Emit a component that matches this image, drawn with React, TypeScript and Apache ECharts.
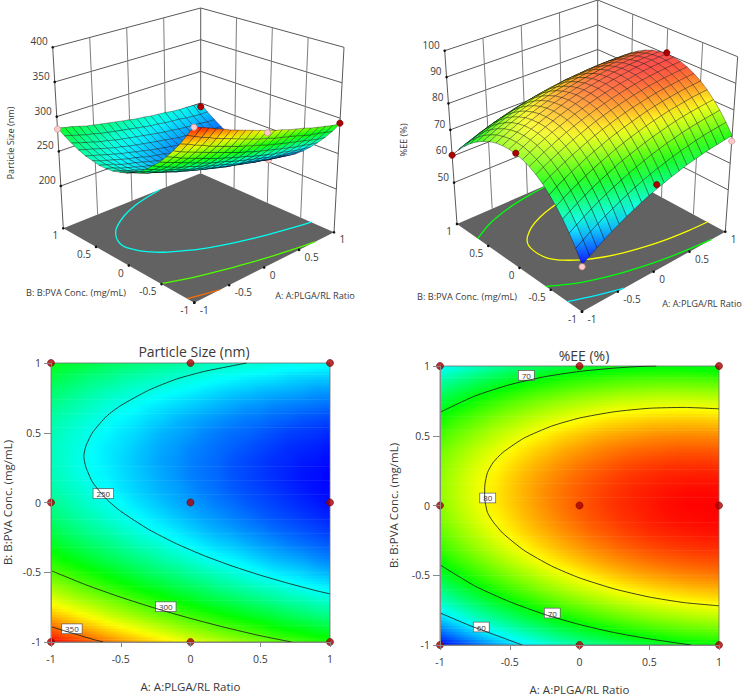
import React, { useEffect, useRef } from "react";
import * as echarts from "echarts";

const FONT = "'Open Sans', 'Noto Sans', sans-serif";
const TEXT = "#3a3a3a";

// Factor levels of the response-surface grid (A along a row, B from row to row)
const gridLevels = [-1, -0.9, -0.8, -0.7, -0.6, -0.5, -0.4, -0.3, -0.2, -0.1, 0, 0.1, 0.2, 0.3, 0.4, 0.5, 0.6, 0.7, 0.8, 0.9, 1];

// Particle Size (nm): rows B = -1 .. 1, columns A = -1 .. 1
const sizeRows = [
  [367,362,358,353,349,344,340,336,332,328,324,320,317,313,310,307,303,300,297,294,292],
  [352,347,342,338,333,329,325,321,317,313,309,306,302,299,296,293,289,286,284,281,278],
  [337,333,328,324,319,315,311,307,303,300,296,293,289,286,283,280,277,274,271,268,266],
  [324,319,315,311,307,303,299,295,291,287,284,280,277,274,271,268,265,262,260,257,255],
  [312,308,303,299,295,291,287,283,280,276,273,270,266,263,260,257,255,252,249,247,245],
  [301,297,293,289,285,281,277,273,270,267,263,260,257,254,251,248,245,243,241,238,236],
  [292,287,283,279,275,272,268,265,261,258,255,251,248,246,243,240,237,235,233,230,228],
  [283,279,275,271,268,264,260,257,254,250,247,244,241,239,236,233,231,228,226,224,222],
  [276,272,268,264,261,257,254,250,247,244,241,238,235,233,230,228,225,223,221,219,217],
  [270,266,262,259,255,252,248,245,242,239,236,233,231,228,226,223,221,219,217,215,213],
  [265,262,258,254,251,248,244,241,238,235,232,230,227,225,222,220,218,216,214,212,210],
  [262,258,255,251,248,244,241,238,235,233,230,227,225,222,220,218,216,214,212,210,209],
  [259,256,252,249,246,243,240,237,234,231,228,226,224,221,219,217,215,213,211,210,208],
  [258,255,251,248,245,242,239,236,233,231,228,226,224,221,219,217,215,214,212,211,209],
  [258,255,252,248,245,243,240,237,234,232,229,227,225,223,221,219,217,215,214,213,211],
  [260,256,253,250,247,244,242,239,236,234,232,229,227,225,224,222,220,218,217,216,214],
  [262,259,256,253,250,247,245,242,240,237,235,233,231,229,227,226,224,223,221,220,219],
  [266,263,260,257,254,251,249,246,244,242,240,238,236,234,232,231,229,228,227,226,225],
  [271,268,265,262,259,257,254,252,250,248,246,244,242,240,239,237,236,235,234,232,232],
  [277,274,271,268,266,263,261,259,257,255,253,251,249,248,246,245,244,242,241,240,240],
  [284,281,279,276,273,271,269,267,265,263,261,259,258,256,255,254,252,251,251,250,249],
];

// %EE (%): rows B = -1 .. 1, columns A = -1 .. 1
const eeRows = [
  [50.7,52.3,53.9,55.5,57,58.3,59.7,60.9,62.1,63.2,64.2,65.1,66,66.8,67.6,68.2,68.8,69.3,69.7,70.1,70.4],
  [55,56.6,58.2,59.7,61.2,62.5,63.8,65,66.2,67.3,68.3,69.2,70,70.8,71.5,72.1,72.7,73.2,73.6,73.9,74.2],
  [58.9,60.5,62.1,63.6,65,66.3,67.6,68.8,69.9,70.9,71.9,72.8,73.6,74.4,75,75.7,76.2,76.6,77,77.3,77.6],
  [62.4,64,65.5,67,68.4,69.7,70.9,72.1,73.2,74.2,75.1,76,76.8,77.5,78.2,78.8,79.3,79.7,80,80.3,80.5],
  [65.5,67.1,68.6,70,71.4,72.7,73.9,75,76.1,77.1,78,78.8,79.6,80.3,80.9,81.5,81.9,82.3,82.7,82.9,83.1],
  [68.2,69.8,71.3,72.7,74,75.3,76.4,77.5,78.6,79.5,80.4,81.2,82,82.7,83.3,83.8,84.2,84.6,84.9,85.1,85.3],
  [70.6,72.1,73.5,74.9,76.2,77.4,78.6,79.7,80.7,81.6,82.5,83.3,84,84.6,85.2,85.7,86.1,86.4,86.7,86.9,87],
  [72.5,74,75.4,76.7,78,79.2,80.3,81.4,82.4,83.3,84.1,84.9,85.5,86.2,86.7,87.2,87.6,87.9,88.1,88.3,88.4],
  [74,75.4,76.8,78.1,79.4,80.6,81.7,82.7,83.6,84.5,85.3,86.1,86.7,87.3,87.8,88.3,88.6,88.9,89.1,89.3,89.4],
  [75.1,76.5,77.9,79.2,80.4,81.5,82.6,83.6,84.5,85.4,86.2,86.9,87.5,88.1,88.5,89,89.3,89.6,89.7,89.9,89.9],
  [75.7,77.2,78.5,79.8,81,82.1,83.1,84.1,85,85.8,86.6,87.3,87.9,88.4,88.8,89.2,89.6,89.8,90,90,90.1],
  [76,77.4,78.7,80,81.1,82.2,83.2,84.2,85.1,85.9,86.6,87.2,87.8,88.3,88.8,89.1,89.4,89.6,89.8,89.8,89.8],
  [75.9,77.3,78.6,79.8,80.9,82,83,83.9,84.7,85.5,86.2,86.8,87.4,87.9,88.3,88.6,88.9,89,89.2,89.2,89.2],
  [75.4,76.7,78,79.2,80.3,81.3,82.3,83.2,84,84.7,85.4,86,86.5,87,87.4,87.7,87.9,88.1,88.1,88.2,88.1],
  [74.5,75.8,77,78.2,79.2,80.3,81.2,82.1,82.8,83.6,84.2,84.8,85.3,85.7,86.1,86.3,86.5,86.7,86.7,86.7,86.6],
  [73.1,74.4,75.6,76.7,77.8,78.8,79.7,80.5,81.3,82,82.6,83.2,83.6,84,84.3,84.6,84.8,84.9,84.9,84.9,84.8],
  [71.4,72.7,73.8,74.9,76,76.9,77.8,78.6,79.4,80,80.6,81.1,81.6,81.9,82.2,82.5,82.6,82.7,82.7,82.6,82.5],
  [69.3,70.5,71.6,72.7,73.7,74.7,75.5,76.3,77,77.6,78.2,78.7,79.1,79.5,79.7,79.9,80,80.1,80.1,80,79.8],
  [66.7,67.9,69,70.1,71.1,72,72.8,73.6,74.2,74.8,75.4,75.8,76.2,76.6,76.8,77,77.1,77.1,77,76.9,76.7],
  [63.8,65,66,67.1,68,68.9,69.7,70.4,71.1,71.7,72.2,72.6,73,73.3,73.5,73.6,73.7,73.7,73.6,73.5,73.2],
  [60.4,61.6,62.6,63.6,64.6,65.4,66.2,66.9,67.5,68.1,68.6,69,69.3,69.6,69.7,69.9,69.9,69.9,69.8,69.6,69.3],
];

// Contour lines: [level, [[A, B], ...]]
const sizeContours: [number, number[][]][] = [
  [250, [[0.403,1],[0.3,0.98],[0.1,0.94],[-0.1,0.885],[-0.3,0.805],[-0.5,0.695],[-0.6,0.62],[-0.7,0.505],[-0.75,0.405],[-0.765,0.33],[-0.75,0.254],[-0.7,0.142],[-0.6,0.022],[-0.5,-0.063],[-0.3,-0.193],[-0.1,-0.296],[0.1,-0.382],[0.3,-0.456],[0.5,-0.521],[0.7,-0.579],[0.9,-0.632],[1,-0.655]]],
  [300, [[-1,-0.488],[-0.75,-0.59],[-0.5,-0.679],[-0.25,-0.759],[0,-0.831],[0.25,-0.896],[0.5,-0.955],[0.725,-1]]],
  [350, [[-1,-0.89],[-0.9,-0.921],[-0.8,-0.951],[-0.7,-0.981],[-0.625,-1]]],
];
const eeContours: [number, number[][]][] = [
  [80, [[1,0.693],[0.75,0.703],[0.5,0.697],[0.25,0.672],[0,0.627],[-0.2,0.569],[-0.4,0.482],[-0.55,0.38],[-0.62,0.307],[-0.66,0.235],[-0.678,0.15],[-0.68,0.06],[-0.66,-0.049],[-0.62,-0.116],[-0.55,-0.198],[-0.4,-0.32],[-0.2,-0.434],[0,-0.519],[0.25,-0.598],[0.5,-0.656],[0.75,-0.696],[1,-0.719]]],
  [70, [[-1,0.668],[-0.75,0.785],[-0.5,0.866],[-0.25,0.923],[0,0.961],[0.25,0.985],[0.42,0.996],[0.55,1]]],
  [70, [[-1,-0.425],[-0.75,-0.577],[-0.5,-0.69],[-0.25,-0.781],[0,-0.853],[0.25,-0.911],[0.5,-0.956],[0.8,-1]]],
  [60, [[-1,-0.77],[-0.8,-0.855],[-0.6,-0.93],[-0.41,-1]]],
];
const sizeContourLabels = [[-0.625,0.064,"250"],[-0.177,-0.747,"300"],[-0.85,-0.905,"350"]];
const eeContourLabels = [[-0.381,0.933,"70"],[-0.658,0.054,"80"],[-0.195,-0.771,"70"],[-0.704,-0.871,"60"]];

// Design points
const designA = [-1,0,1,-1,0,1,-1,0,1];
const designB = [-1,-1,-1,0,0,0,1,1,1];
const sizeObserved = [366,321,293,270,245,203,282,257,244];
const sizeAbove = [0,0,1,0,0,0,0,0,1];
const sizeInFront = [1,1,1,0,0,0,1,0,1];
const eeObserved = [50,65.8,68.3,76,86,90.5,60.4,68,69];
const eeAbove = [0,1,0,1,0,1,1,0,0];
const eeInFront = [1,1,1,1,0,1,1,0,0];

const axisTicks = [-1,-0.5,0,0.5,1];
const sizeZTicks = [200,250,300,350,400];
const eeZTicks = [50,60,70,80,90,100];

const RED = "#ad0000", RED_EDGE = "#6e0000", PINK = "#ffc9c9", PINK_EDGE = "#c99a9a";

function rainbow(t: number, sheen = 0) {
  const x = Math.max(0, Math.min(1, t)) * 4;
  const knots = [[0,0,255],[0,255,255],[0,255,0],[255,255,0],[255,0,0]];
  const k = Math.min(3, Math.floor(x)), f = x - k;
  const c = [0,1,2].map((d) => {
    const v = knots[k][d] + (knots[k + 1][d] - knots[k][d]) * f;
    return Math.round(v + (255 - v) * sheen);
  });
  return `rgb(${c[0]},${c[1]},${c[2]})`;
}

function layer(items: any[], axis: number, draw: (it: any, api: any) => any, extra: any = {}) {
  return {
    type: "custom", coordinateSystem: "cartesian2d", xAxisIndex: axis, yAxisIndex: axis,
    silent: true, clip: false, data: items.map((_, k) => [k, 0]),
    renderItem: (p: any, api: any) => draw(items[p.dataIndex], api), ...extra,
  };
}

type Pt = number[];
interface Panel3D {
  floor: Pt[]; top: Pt[]; zMin: number; zMax: number; zTicks: number[];
  rows: number[][]; contours: [number, number[][]][];
  observed: number[]; above: number[]; inFront: number[]; sheen: number;
  zTitle: string; zTitlePos: Pt; aTitlePos: Pt; bTitlePos: Pt;
}

function series3D(c: Panel3D) {
  const flat = c.rows.flat();
  const vMin = Math.min(...flat), vMax = Math.max(...flat);
  const tone = (v: number, s = 0) => rainbow((v - vMin) / (vMax - vMin), s);
  // corners: near(-1,-1), right(1,-1), left(-1,1), back(1,1)
  const view = (A: number, B: number, Z: number): Pt => {
    const u = (A + 1) / 2, v = (B + 1) / 2, w = (Z - c.zMin) / (c.zMax - c.zMin);
    const wt = [(1 - u) * (1 - v), u * (1 - v), (1 - u) * v, u * v];
    return [0, 1].map((d) => {
      const lo = c.floor.reduce((s, p, i) => s + p[d] * wt[i], 0);
      const hi = c.top.reduce((s, p, i) => s + p[d] * wt[i], 0);
      return lo + (hi - lo) * w;
    });
  };
  const ZF = c.zMin, ZT = c.zMax;
  const segs: any[] = [];
  const DARK = "#5a5a5a", MID = "#7d7d7d";
  c.zTicks.forEach((z) => {
    segs.push([-1, 1, z, 1, 1, z, DARK], [1, 1, z, 1, -1, z, DARK]);
  });
  axisTicks.forEach((t) => {
    const edge = Math.abs(t) === 1;
    segs.push([t, 1, ZF, t, 1, ZT, edge ? DARK : MID]);
    if (t !== 1) segs.push([1, t, ZF, 1, t, ZT, edge ? DARK : MID]);
  });
  const line = (api: any, a: Pt, b: Pt, stroke: string, lineWidth = 1) => {
    const p = api.coord(a), q = api.coord(b);
    return { type: "line", shape: { x1: p[0], y1: p[1], x2: q[0], y2: q[1] }, style: { stroke, lineWidth } };
  };
  const quads: number[][] = [];
  for (let j = 19; j >= 0; j--) for (let i = 19; i >= 0; i--) quads.push([i, j]);
  const points = designA.map((a, k) => ({ a, b: designB[k], z: c.observed[k], up: c.above[k], front: c.inFront[k] }));
  const marker = (d: any, api: any) => {
    const p = api.coord(view(d.a, d.b, d.z));
    return { type: "circle", shape: { cx: p[0], cy: p[1], r: 3.1 }, style: { fill: d.up ? RED : PINK, stroke: d.up ? RED_EDGE : PINK_EDGE, lineWidth: 0.8 } };
  };
  const dots: Pt[] = [];
  axisTicks.forEach((t) => { dots.push([t, -1, ZF], [-1, t, ZF]); });
  c.zTicks.forEach((z) => dots.push([-1, 1, z]));
  const labels: any[] = [];
  axisTicks.forEach((t) => {
    labels.push({ at: [-1, t, ZF], dx: -5, dy: 7, align: "right", text: String(t) });
    labels.push({ at: [t, -1, ZF], dx: 5.5, dy: 7, align: "left", text: String(t) });
  });
  c.zTicks.forEach((z) => labels.push({ at: [-1, 1, z], dx: -5, dy: -6, align: "right", text: String(z) }));
  const free: any[] = [
    { pos: c.zTitlePos, text: c.zTitle, rot: Math.PI / 2, size: 9.2 },
    { pos: c.bTitlePos, text: "B: B:PVA Conc. (mg/mL)", rot: 0, size: 9.2 },
    { pos: c.aTitlePos, text: "A: A:PLGA/RL Ratio", rot: 0, size: 9.2 },
  ];
  const zSpan = c.zMax - c.zMin;
  return [
    layer(segs, 2, (s, api) => line(api, view(s[0], s[1], s[2]), view(s[3], s[4], s[5]), s[6])),
    layer([0], 2, (_, api) => ({
      type: "polygon",
      shape: { points: [view(-1,-1,ZF), view(1,-1,ZF), view(1,1,ZF), view(-1,1,ZF)].map((p) => api.coord(p)) },
      style: { fill: "#626262" },
    })),
    layer(c.contours, 2, (ct, api) => ({
      type: "polyline",
      shape: { points: ct[1].map((p: number[]) => api.coord(view(p[0], p[1], ZF))), smooth: 0.2 },
      style: { fill: "none", stroke: tone(ct[0]), lineWidth: 1.3 },
    })),
    layer(dots, 2, (d, api) => {
      const p = api.coord(view(d[0], d[1], d[2]));
      return { type: "circle", shape: { cx: p[0], cy: p[1], r: 1.3 }, style: { fill: "#111" } };
    }),
    layer(points.filter((d) => !d.front), 2, marker),
    layer(quads, 2, (q, api) => {
      const [i, j] = q;
      const r = c.rows;
      const corners = [[i, j], [i + 1, j], [i + 1, j + 1], [i, j + 1]].map(([m, n]) => ({
        v: r[n][m], p: api.coord(view(gridLevels[m], gridLevels[n], r[n][m])),
      }));
      const slopeA = ((r[j][i + 1] + r[j + 1][i + 1] - r[j][i] - r[j + 1][i]) / 0.2) / zSpan;
      const slopeB = ((r[j + 1][i] + r[j + 1][i + 1] - r[j][i] - r[j][i + 1]) / 0.2) / zSpan;
      const sheen = c.sheen / (1 + (slopeA * slopeA + slopeB * slopeB) / 0.12);
      const sorted = [...corners].sort((a, b) => a.v - b.v);
      const lo = sorted[0], hi = sorted[3];
      const fill = {
        type: "linear", x: lo.p[0], y: lo.p[1], x2: hi.p[0], y2: hi.p[1], global: true,
        colorStops: [{ offset: 0, color: tone(lo.v, sheen) }, { offset: 1, color: tone(hi.v, sheen) }],
      };
      return { type: "polygon", shape: { points: corners.map((k) => k.p) }, style: { fill, stroke: "rgba(0,0,0,0.55)", lineWidth: 0.6 } };
    }),
    layer(points.filter((d) => d.front), 2, marker),
    layer(labels, 2, (l, api) => {
      const p = api.coord(view(l.at[0], l.at[1], l.at[2]));
      return { type: "text", style: { text: l.text, x: p[0] + l.dx, y: p[1] + l.dy, align: l.align, verticalAlign: "middle", fontSize: 10, fontFamily: FONT, fill: TEXT } };
    }),
    layer(free, 2, (f, api) => {
      const p = api.coord(f.pos);
      return { type: "text", x: p[0], y: p[1], rotation: f.rot, style: { text: f.text, x: 0, y: 0, align: "center", verticalAlign: "middle", fontSize: f.size, fontFamily: FONT, fill: TEXT } };
    }),
  ];
}

function series2D(axis: number, rows: number[][], contours: [number, number[][]][], labels: any[]) {
  const flat = rows.flat();
  const vMin = Math.min(...flat), vMax = Math.max(...flat);
  const strips: any[] = [];
  for (let j = 0; j < rows.length - 1; j++) {
    for (let k = 0; k < 5; k++) {
      const f = (k + 0.5) / 5;
      const stops = rows[j].map((v, i) => ({
        offset: i / (rows[j].length - 1),
        color: rainbow((v + (rows[j + 1][i] - v) * f - vMin) / (vMax - vMin)),
      }));
      strips.push({ lo: gridLevels[j] + (k * 0.1) / 5, hi: gridLevels[j] + ((k + 1) * 0.1) / 5, stops });
    }
  }
  return [
    layer(strips, axis, (s, api) => {
      const a = api.coord([-1, s.hi]), b = api.coord([1, s.lo]);
      return { type: "rect", shape: { x: a[0], y: a[1], width: b[0] - a[0], height: b[1] - a[1] + 0.6 },
        style: { fill: { type: "linear", x: 0, y: 0, x2: 1, y2: 0, colorStops: s.stops } } };
    }),
    layer([0], axis, (_, api) => {
      const a = api.coord([-1, 1]), b = api.coord([1, -1]);
      return { type: "rect", shape: { x: a[0], y: a[1], width: b[0] - a[0], height: b[1] - a[1] }, style: { fill: "none", stroke: "rgba(110,110,110,0.8)", lineWidth: 1 } };
    }),
    ...contours.map((ct) => ({
      type: "line", xAxisIndex: axis, yAxisIndex: axis, data: ct[1], smooth: 0.2, symbol: "none", silent: true,
      lineStyle: { color: "rgba(25,35,25,0.85)", width: 1 },
    })),
    layer(labels, axis, (l, api) => {
      const p = api.coord([l[0], l[1]]);
      return { type: "text", style: { text: l[2], x: p[0], y: p[1], align: "center", verticalAlign: "middle", fontSize: 8, fontFamily: FONT, fill: TEXT, backgroundColor: "#fff", borderColor: "#666", borderWidth: 0.8, padding: [1, 3, 0, 3] } };
    }),
    {
      type: "scatter", xAxisIndex: axis, yAxisIndex: axis, clip: false, silent: true, symbolSize: 7,
      data: designA.map((a, k) => [a, designB[k]]),
      itemStyle: { color: RED, borderColor: RED_EDGE, borderWidth: 0.8 },
    },
  ];
}

function valueAxis(gridIndex: number, name: string, gap: number, isY: boolean) {
  return {
    gridIndex, type: "value", min: -1, max: 1, interval: 0.5, z: 5,
    name, nameLocation: "middle", nameGap: gap,
    nameTextStyle: { fontFamily: FONT, fontSize: 11.5, color: TEXT },
    axisLine: { show: true, onZero: false, lineStyle: { color: "#888" } },
    axisTick: { show: true, length: isY ? 7 : 5, lineStyle: { color: "#888" } },
    axisLabel: { fontFamily: FONT, fontSize: 10.5, color: TEXT, margin: isY ? 10 : 11, padding: isY ? [0, 0, 4, 0] : 0 },
    splitLine: { show: false },
  };
}

const hiddenAxisX = { gridIndex: 2, type: "value", min: 0, max: 743, show: false };
const hiddenAxisY = { gridIndex: 2, type: "value", min: 0, max: 696, inverse: true, show: false };

const sizePanel: Panel3D = {
  floor: [[194.3,302.7],[334,232.3],[63.3,228.3],[200.7,173.3]],
  top: [[194,101],[344,47.3],[52.7,47.3],[200.7,8]],
  zMin: 139, zMax: 400, zTicks: sizeZTicks, rows: sizeRows, contours: sizeContours,
  observed: sizeObserved, above: sizeAbove, inFront: sizeInFront, sheen: 0.05,
  zTitle: "Particle Size (nm)", zTitlePos: [10,143], aTitlePos: [315,295], bTitlePos: [76,292],
};
const eePanel: Panel3D = {
  floor: [[582,311.7],[725.3,231.7],[457,224],[597.7,162.7]],
  top: [[582.5,123.7],[737.7,56.7],[444.7,50.7],[597.7,0]],
  zMin: 34.3, zMax: 100, zTicks: eeZTicks, rows: eeRows, contours: eeContours,
  observed: eeObserved, above: eeAbove, inFront: eeInFront, sheen: 0.3,
  zTitle: "%EE (%)", zTitlePos: [403,140], aTitlePos: [702,303], bTitlePos: [467,296],
};

export default function App() {
  const ref = useRef<HTMLDivElement>(null);
  useEffect(() => {
    const chart = echarts.init(ref.current!, undefined, { renderer: "svg" });
    chart.setOption({
      animation: false,
      backgroundColor: "#fff",
      title: [
        { text: "Particle Size (nm)", left: 189, top: 339, textAlign: "center", textStyle: { fontFamily: FONT, fontSize: 14, fontWeight: "normal", color: TEXT } },
        { text: "%EE (%)", left: 579, top: 343, textAlign: "center", textStyle: { fontFamily: FONT, fontSize: 14, fontWeight: "normal", color: TEXT } },
      ],
      grid: [
        { left: 51, top: 363, width: 279, height: 279 },
        { left: 440, top: 366, width: 279, height: 279 },
        { left: 0, top: 0, width: 743, height: 696 },
      ],
      xAxis: [valueAxis(0, "A: A:PLGA/RL Ratio", 38, false), valueAxis(1, "A: A:PLGA/RL Ratio", 38, false), hiddenAxisX],
      yAxis: [valueAxis(0, "B: B:PVA Conc. (mg/mL)", 38, true), valueAxis(1, "B: B:PVA Conc. (mg/mL)", 41, true), hiddenAxisY],
      series: [
        ...series3D(sizePanel),
        ...series3D(eePanel),
        ...series2D(0, sizeRows, sizeContours, sizeContourLabels),
        ...series2D(1, eeRows, eeContours, eeContourLabels),
      ],
    });
    return () => chart.dispose();
  }, []);
  return <div ref={ref} style={{ position: "absolute", left: 0, top: 0, width: 743, height: 696 }} />;
}
